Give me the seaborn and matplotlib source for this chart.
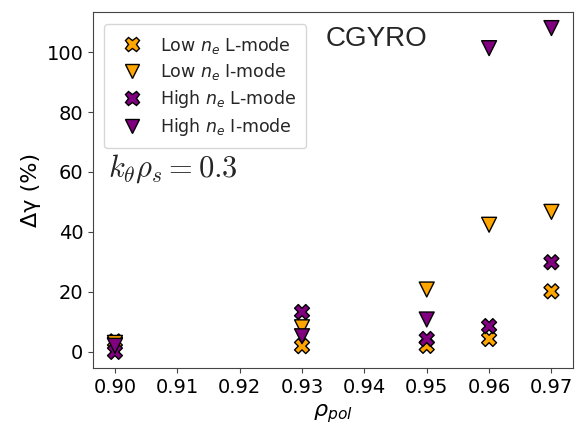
import matplotlib
matplotlib.use("Agg")
import matplotlib.pyplot as plt
import seaborn as sns
import pandas as pd
from matplotlib.lines import Line2D

rho = [0.90, 0.93, 0.95, 0.96, 0.97]
low_L = [3.5, 1.9, 2.0, 4.3, 20.2]
low_I = [3.0, 8.2, 20.8, 42.4, 46.7]
high_L = [0.0, 13.3, 4.3, 8.6, 29.9]
high_I = [2.0, 5.2, 10.8, 101.3, 108.0]

labels = [r"Low $n_e$ L-mode", r"Low $n_e$ I-mode",
          r"High $n_e$ L-mode", r"High $n_e$ I-mode"]
series = [low_L, low_I, high_L, high_I]
colors = {labels[0]: "orange", labels[1]: "orange",
          labels[2]: "purple", labels[3]: "purple"}
markers = {labels[0]: "X", labels[1]: "v",
           labels[2]: "X", labels[3]: "v"}

rows = []
for lab, vals in zip(labels, series):
    for r, v in zip(rho, vals):
        rows.append({"rho": r, "dg": v, "case": lab})
df = pd.DataFrame(rows)

sns.set_style("ticks")
plt.rcParams["font.family"] = ["DejaVu Sans"]

fig = plt.figure(figsize=(5.82, 4.25), dpi=100)
ax = fig.add_axes([0.16, 0.134, 0.825, 0.838])

sns.scatterplot(data=df, x="rho", y="dg", hue="case", style="case",
                palette=colors, markers=markers, s=115,
                edgecolor="black", linewidth=1.0, ax=ax, legend=False,
                zorder=3)

handles = [Line2D([], [], linestyle="none", marker=markers[l],
                  markerfacecolor=colors[l], markeredgecolor="black",
                  markersize=10.5, label=l) for l in labels]
ax.legend(handles=handles, loc="upper left", fontsize=12.5,
          frameon=True, borderpad=0.6, handletextpad=0.6,
          labelspacing=0.33, bbox_to_anchor=(0.005, 0.99))

ax.set_xticks([0.90, 0.91, 0.92, 0.93, 0.94, 0.95, 0.96, 0.97])
ax.set_xticklabels(["0.90", "0.91", "0.92", "0.93", "0.94", "0.95",
                    "0.96", "0.97"])
ax.set_yticks([0, 20, 40, 60, 80, 100])
ax.tick_params(labelsize=14, labelcolor="black", color="#444444")
ax.set_xlabel(r"$\rho_{pol}$", fontsize=16, color="black")
ax.set_ylabel("Δγ (%)", fontsize=16, color="black")

ax.text(0.485, 0.925, "CGYRO", transform=ax.transAxes, fontsize=20,
        va="center", ha="left", family="Liberation Sans")
ax.text(0.032, 0.56, r"$k_\theta \rho_s = 0.3$", transform=ax.transAxes,
        fontsize=22, va="center", ha="left", math_fontfamily="cm")

for sp in ax.spines.values():
    sp.set_color("#444444")

fig.savefig("out.png", dpi=100)
